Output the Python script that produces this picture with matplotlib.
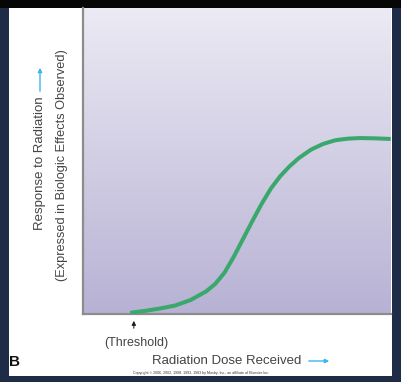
import numpy as np
import matplotlib
matplotlib.use("Agg")
import matplotlib.pyplot as plt
from matplotlib.patches import Rectangle
from matplotlib.colors import LinearSegmentedColormap

plt.rcParams['font.family'] = ['Liberation Sans', 'DejaVu Sans']

# --- dose-response curve (axes 0..100) ---
dose = [15.3, 20, 25, 30, 35, 40, 43, 46, 49, 52, 55, 58, 61, 64, 67, 70,
        74, 78, 82, 86, 90, 95, 99.9]
response = [0.4, 1.0, 1.8, 2.8, 4.6, 7.4, 9.9, 13.6, 18.8, 24.6, 30.4, 36.0,
            41.0, 45.0, 48.2, 50.9, 53.7, 55.6, 56.8, 57.3, 57.5, 57.4, 57.2]

x_label = "Radiation Dose Received"
y_label_1 = "Response to Radiation"
y_label_2 = "(Expressed in Biologic Effects Observed)"
threshold_label = "(Threshold)"
threshold_x = 16.5
copyright_txt = ("Copyright \u00a9 2006, 2002, 1998, 1993, 1983 by Mosby, Inc., "
                 "an affiliate of Elsevier Inc.")

W, H = 402, 382
fig = plt.figure(figsize=(W / 100, H / 100), dpi=100)
fig.patch.set_facecolor('#1e2c48')

# white card + dark top band
bg = fig.add_axes([0, 0, 1, 1])
bg.set_xlim(0, W)
bg.set_ylim(H, 0)
bg.axis('off')
bg.add_patch(Rectangle((0, 0), W, 8, color='#060606', lw=0))
bg.add_patch(Rectangle((9, 8), 383, 368, color='white', lw=0))

# main plot area (pixel box 83..391, 8..314)
L, R, T, B = 83, 391, 8, 314
ax = fig.add_axes([L / W, 1 - B / H, (R - L) / W, (B - T) / H])
ax.set_xlim(0, 100)
ax.set_ylim(0, 100)

grad = LinearSegmentedColormap.from_list('lav', ['#b7b2d4', '#eceaf4'])
ax.imshow(np.linspace(0, 1, 256).reshape(-1, 1), cmap=grad, origin='lower',
          extent=[0, 100, 0, 100], aspect='auto', zorder=0)

ax.plot(dose, response, color='#3aa86c', lw=2.9, solid_capstyle='butt',
        solid_joinstyle='round', zorder=3)

for side in ['top', 'right']:
    ax.spines[side].set_visible(False)
for side in ['left', 'bottom']:
    ax.spines[side].set_color('#8c8c8c')
    ax.spines[side].set_linewidth(1.6)
ax.set_xticks([])
ax.set_yticks([])

# threshold marker and labels (pixel coords on background axes)
tx = L + threshold_x / 100 * (R - L)
bg.annotate('', xy=(tx, 318), xytext=(tx, 331),
            arrowprops=dict(arrowstyle='-|>', color='#222222', lw=0.8,
                            mutation_scale=6))
bg.text(tx + 2, 343, threshold_label, ha='center', va='center', fontsize=9,
        color='#444444')

bg.text(227, 361, x_label, ha='center', va='center', fontsize=9.5, color='#444444')
bg.annotate('', xy=(332, 361), xytext=(306, 361),
            arrowprops=dict(arrowstyle='-|>', color='#3cb4ee', lw=1.0,
                            mutation_scale=6))

bg.text(40, 163, y_label_1, ha='center', va='center', rotation=90,
        fontsize=9.5, color='#444444')
bg.annotate('', xy=(40, 65), xytext=(40, 94),
            arrowprops=dict(arrowstyle='-|>', color='#3cb4ee', lw=1.0,
                            mutation_scale=6))
bg.text(62, 165, y_label_2, ha='center', va='center', rotation=90,
        fontsize=9.2, color='#444444')

bg.text(9, 362, "B", ha='left', va='center', fontsize=11, fontweight='bold',
        color='#111111')
bg.text(201, 373, copyright_txt, ha='center', va='center', fontsize=2.6,
        color='#333333')

fig.savefig('out.png', dpi=100, facecolor=fig.get_facecolor())
